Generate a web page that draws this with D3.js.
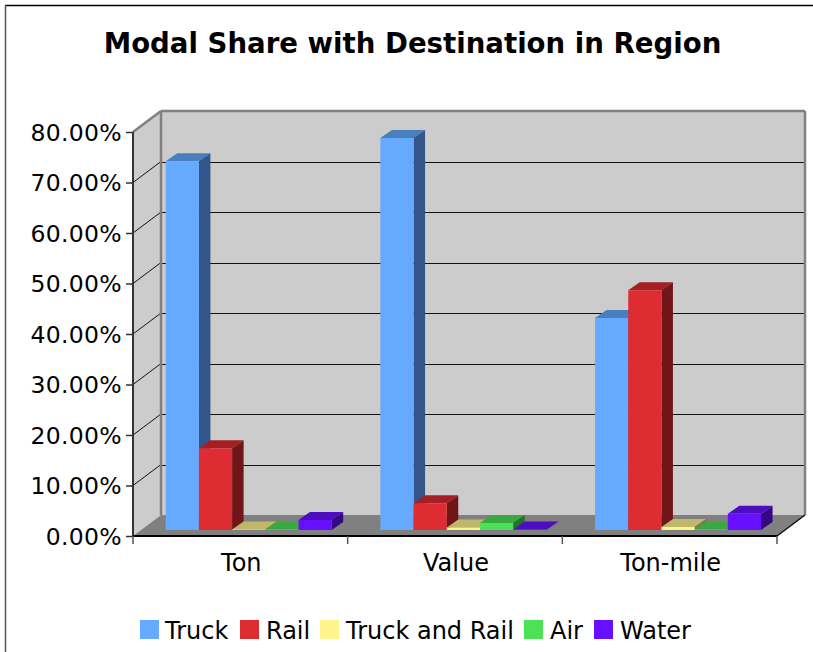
<!DOCTYPE html>
<html><head><meta charset="utf-8">
<script src="https://cdn.jsdelivr.net/npm/d3@7"></script>
<style>html,body{margin:0;padding:0;background:#fff}svg{display:block}text{font-family:"DejaVu Sans",sans-serif;fill:#000}</style>
</head><body><div id="c"></div>
<script>
const categories = ["Ton","Value","Ton-mile"];
const seriesNames = ["Truck","Rail","Truck and Rail","Air","Water"];
const truck = [73.0,77.6,42.0];
const rail = [16.2,5.3,47.5];
const truckRail = [0.1,0.5,0.6];
const air = [0.1,1.4,0.1];
const water = [2.0,0.1,3.2];
const yTicks = [0,10,20,30,40,50,60,70,80];
const seriesValues = [truck,rail,truckRail,air,water];
const fronts = ["#66aaff","#de2c33","#fff58c","#4de155","#6610ff"];
const tops = ["#4a7fbf","#a31f24","#bfb86a","#3aa93f","#4c0cbf"];
const sides = ["#32568a","#701518","#807a46","#277229","#330880"];

const W=813,H=652;
const svg=d3.select("#c").append("svg").attr("width",W).attr("height",H);
const y=d3.scaleLinear().domain([0,80]).range([536,132]);
const x=d3.scaleBand().domain(categories).range([133,777]);
const s=d3.scaleBand().domain(seriesNames).range([32.7,32.7+33.2*5]);
const dx=28,dy=-21,bx=11.5,by=-8,ox=0,oy=-6;
const poly=(pts,f)=>svg.append("polygon").attr("points",pts.map(p=>p.join(",")).join(" ")).attr("fill",f);
const line=(a,b,c,w)=>svg.append("line").attr("x1",a[0]).attr("y1",a[1]).attr("x2",b[0]).attr("y2",b[1]).attr("stroke",c).attr("stroke-width",w);

// frame
line([5,5.5],[813,5.5],"#000",1.5);
line([5.5,5],[5.5,652],"#555",1.5);

const x0=x.range()[0],x1=x.range()[1],y0=y(0),yT=y(80);
// walls and floor
poly([[x0,yT],[x0+dx,yT+dy],[x0+dx,y0+dy],[x0,y0]],"#cccccc");
poly([[x0+dx,yT+dy],[x1+dx,yT+dy],[x1+dx,y0+dy],[x0+dx,y0+dy]],"#cccccc");
poly([[x0,y0],[x0+dx,y0+dy],[x1+dx,y0+dy],[x1,y0]],"#808080");
// gridlines
yTicks.filter(t=>t>0&&t<80).forEach(t=>{
  line([x0,y(t)],[x0+dx,y(t)+dy],"#111",1);
  line([x0+dx,Math.round(y(t)+dy)+0.5],[x1+dx,Math.round(y(t)+dy)+0.5],"#111",1);
});
// wall borders
line([x0,yT],[x0+dx,yT+dy],"#808080",2.5);
line([x0+dx,yT+dy],[x1+dx,yT+dy],"#808080",2.5);
line([x0+dx,yT+dy],[x0+dx,y0+dy],"#808080",2.5);
line([x1+dx,yT+dy],[x1+dx,y0+dy],"#808080",2.5);
line([x1,y0],[x1+dx,y0+dy],"#111",1.5);

// bars
categories.forEach((c,ci)=>{
  seriesNames.forEach((n,si)=>{
    const v=seriesValues[si][ci];
    const l=x(c)+s(n)+ox,r=l+s.bandwidth(),b=y0+oy,t=y(v)+oy;
    poly([[l,t],[l+bx,t+by],[r+bx,t+by],[r,t]],tops[si]);
    poly([[r,t],[r+bx,t+by],[r+bx,b+by],[r,b]],sides[si]);
    poly([[l,t],[r,t],[r,b],[l,b]],fronts[si]);
  });
});

// axes
const yAxis=d3.axisLeft(y).tickValues(yTicks).tickSize(7).tickPadding(4).tickFormat(d=>d.toFixed(2)+"%");
const ga=svg.append("g").attr("transform",`translate(${x0},0)`).call(yAxis);
ga.selectAll("path").attr("stroke","#333").attr("stroke-width",2).attr("d",`M0,${yT}V${y0}`);
ga.selectAll("line").attr("stroke","#333").attr("stroke-width",1.5);
ga.selectAll("text").attr("font-size",23.5).attr("dy","0.36em").attr("letter-spacing",0.3);

const xAxis=d3.axisBottom(x).tickSize(0).tickPadding(18);
const gx=svg.append("g").attr("transform",`translate(1,${y0})`).call(xAxis);
gx.selectAll("path").attr("stroke","#000").attr("stroke-width",2).attr("d",`M${x0-1},0H${x1-1}`);
gx.selectAll("text").attr("font-size",24);
categories.concat(["end"]).forEach((c,i)=>{
  const px=x0+i*x.step();
  line([px,y0],[px,y0+8],"#555",1.5);
});

// title
svg.append("text").attr("x",412.5).attr("y",53).attr("text-anchor","middle").attr("font-size",27.6).attr("font-weight","bold").text("Modal Share with Destination in Region");

// legend
const legendX=[140,240,320,524,594];
const legendText=[165,266,346,550,620];
seriesNames.forEach((n,i)=>{
  svg.append("rect").attr("x",legendX[i]).attr("y",620).attr("width",19).attr("height",19).attr("fill",fronts[i]);
  svg.append("text").attr("x",legendText[i]).attr("y",639).attr("font-size",24).text(n);
});
</script></body></html>
